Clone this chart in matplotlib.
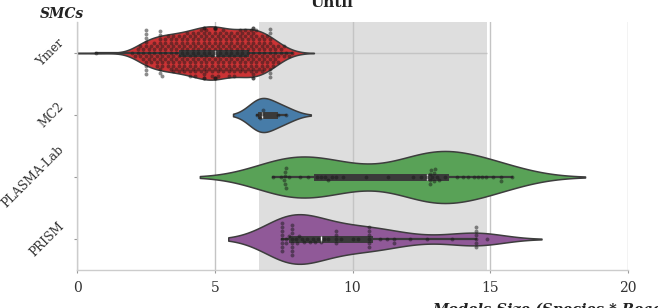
import numpy as np
import pandas as pd
import matplotlib
matplotlib.use("Agg")
import matplotlib.pyplot as plt
import seaborn as sns

# --- data (model size, swarm points per tool) ---
TOOLS = ["Ymer", "MC2", "PLASMA-Lab", "PRISM"]

# Ymer has a few hundred models: value -> how many models sit at it
ymer_vals = [0.7, 2.0, 2.1, 2.2, 2.3, 2.4, 2.5, 2.6, 2.7, 2.8, 2.9,
             3.0, 3.1, 3.2, 3.3, 3.4, 3.5, 3.6, 3.7, 3.8, 3.9,
             4.0, 4.1, 4.2, 4.3, 4.4, 4.5, 4.6, 4.7, 4.8, 4.9,
             5.0, 5.1, 5.2, 5.3, 5.4, 5.5, 5.6, 5.7, 5.8, 5.9,
             6.0, 6.1, 6.2, 6.3, 6.4, 6.5, 6.6, 6.7, 6.8, 6.9,
             7.0, 7.1, 7.2, 7.3, 7.4, 7.5, 7.6, 7.7, 7.8]
ymer_counts = [1, 1, 1, 2, 2, 3, 10, 3, 3, 4, 4,
               9, 5, 5, 5, 6, 6, 6, 6, 6, 6,
               7, 7, 7, 7, 7, 7, 12, 7, 7, 7,
               14, 7, 7, 7, 7, 7, 7, 7, 7, 7,
               7, 7, 7, 7, 12, 7, 6, 6, 6, 5,
               10, 4, 3, 3, 2, 2, 1, 1, 1]
mc2 = [6.55, 6.65, 6.7, 6.75, 7.3, 7.6]
plasma = [7.1, 7.4, 7.5, 7.55, 7.55, 7.55, 7.6, 7.6, 7.7, 8.1, 8.4,
          8.7, 8.85, 9.0, 9.1, 9.25, 9.4, 9.65, 10.5, 11.3, 12.2,
          12.5,
          12.7, 12.8, 12.8, 12.8, 12.85, 12.9, 12.95, 12.95, 13.0, 13.05, 13.15, 13.35,
          13.8, 14.0, 14.2, 14.4, 14.55, 14.7, 14.85, 15.1, 15.4, 15.4, 15.8]
prism = [7.45, 7.45, 7.45, 7.45, 7.45, 7.45, 7.45, 7.45, 7.6, 7.6, 7.7,
         7.8, 7.8, 7.8, 7.8, 7.8, 7.8, 7.8, 7.8, 7.95, 8.0, 8.05, 8.15, 8.25, 8.35,
         8.45, 8.55, 8.65, 8.75, 8.85,
         8.95, 9.1, 9.4, 9.4, 9.4, 9.4, 9.6, 10.0, 10.2,
         10.6, 10.6, 10.6, 10.6, 10.6, 10.6, 11.0, 11.25, 11.5, 11.5, 12.1, 12.7,
         13.6, 14.5, 14.5, 14.5, 14.5, 14.5, 14.5, 14.9]

ymer = np.repeat(ymer_vals, ymer_counts)
GROUPS = [ymer, mc2, plasma, prism]
WIDTHS = [0.86, 0.55, 0.84, 0.8]
BW_ADJ = [0.9, 1.5, 1.0, 0.95]
SPAN = (6.6, 14.9)   # shaded band

df = pd.DataFrame({
    "size": np.concatenate(GROUPS),
    "tool": np.repeat(TOOLS, [len(g) for g in GROUPS]),
})

plt.rcParams["font.family"] = ["DejaVu Serif"]
pal = sns.color_palette("Set1", 5)
colors = [pal[0], pal[1], pal[2], pal[3]]

fig = plt.figure(figsize=(6.58, 3.08), dpi=100)
ax = fig.add_axes([77 / 658, 1 - 270 / 308, 551 / 658, 248 / 308])

ax.axvspan(SPAN[0], SPAN[1], color="#dedede", zorder=0.2, lw=0)
ax.hlines(0, 0, SPAN[1], color="#c4c4c4", lw=1.0, zorder=0.3)

for name, vals, w, bw, c in zip(TOOLS, GROUPS, WIDTHS, BW_ADJ, colors):
    sns.violinplot(x=vals, y=[name] * len(vals), order=TOOLS, orient="h",
                   color=c, width=w, bw_adjust=bw, linecolor="#3d3d3d",
                   linewidth=1.1, density_norm="width", inner="box",
                   inner_kws=dict(box_width=5, whis_width=1.6, color="#3a3a3a"),
                   ax=ax)

sns.swarmplot(data=df, x="size", y="tool", order=TOOLS, orient="h",
              color="#1a1a1a", size=2.8, alpha=0.5, ax=ax, warn_thresh=1)

ax.set_xlim(0, 20)
ax.set_ylim(3.5, -0.5)
ax.set_xticks([0, 5, 10, 15, 20])
ax.set_xlabel("")
ax.set_ylabel("")
ax.grid(axis="x", color="#c4c4c4", lw=1.0)
ax.set_axisbelow(True)
for s in ["top", "right"]:
    ax.spines[s].set_visible(False)
for s in ["left", "bottom"]:
    ax.spines[s].set_color("#cccccc")
    ax.spines[s].set_linewidth(1.0)
ax.tick_params(axis="both", length=2, color="#999999", labelcolor="#333333")
ax.tick_params(axis="x", pad=6, labelsize=10)
ax.tick_params(axis="y", pad=5.5, labelsize=8.8)
for lab in ax.get_yticklabels():
    lab.set_rotation(45)
    lab.set_ha("right")
    lab.set_va("center")

fig.text(40 / 658, 1 - 18 / 308, "SMCs", fontsize=10, fontweight="bold",
         fontstyle="italic", color="#222222")
fig.text(332 / 658, 1 - 7 / 308, "Until", fontsize=11, fontweight="bold",
         ha="center", va="baseline", color="#222222")
fig.text(432 / 658, 1 - 314 / 308, "Models Size (Species * Reactions)",
         fontsize=10.5, fontweight="bold", fontstyle="italic", va="baseline",
         color="#222222")

fig.savefig("out.png", dpi=100)
